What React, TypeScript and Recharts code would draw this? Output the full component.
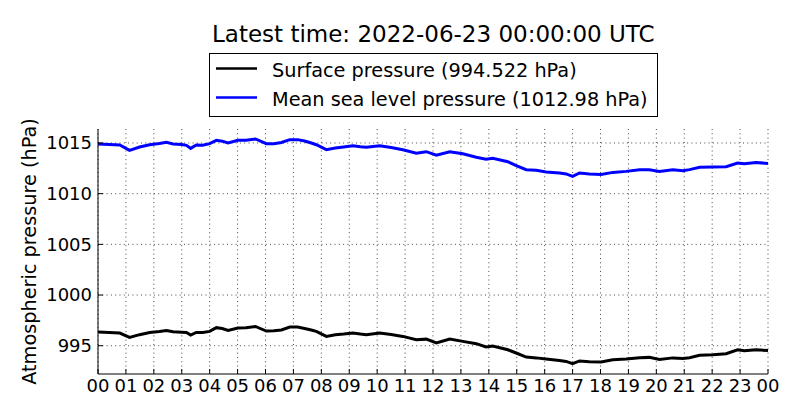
import React from 'react';
import { LineChart, Line, XAxis, YAxis, CartesianGrid } from 'recharts';

const hours = [
  0.0, 0.4, 0.78, 1.13, 1.49, 1.85, 2.2, 2.45, 2.69, 3.0, 3.17, 3.32, 3.52, 3.75,
  4.0, 4.24, 4.45, 4.66, 5.01, 5.3, 5.64, 6.03, 6.3, 6.57, 6.87, 7.15, 7.4, 7.64,
  7.82, 8.18, 8.5, 8.8, 9.13, 9.4, 9.61, 10.09, 10.5, 10.92, 11.4, 11.76, 12.12,
  12.6, 13.07, 13.55, 13.9, 14.14, 14.68, 14.98, 15.34, 15.7, 16.05, 16.53, 16.77,
  17.0, 17.25, 17.6, 18.02, 18.44, 18.92, 19.4, 19.75, 20.11, 20.59, 20.95, 21.19,
  21.55, 22.03, 22.5, 22.91, 23.15, 23.57, 24.0,
];

const meanSeaLevel = [
  1014.9, 1014.85, 1014.8, 1014.27, 1014.6, 1014.83, 1014.95, 1015.06, 1014.9, 1014.85,
  1014.77, 1014.47, 1014.8, 1014.78, 1014.93, 1015.26, 1015.18, 1015.0, 1015.26, 1015.26,
  1015.4, 1014.93, 1014.93, 1015.05, 1015.33, 1015.33, 1015.2, 1015.0, 1014.83, 1014.34,
  1014.5, 1014.6, 1014.73, 1014.62, 1014.57, 1014.73, 1014.55, 1014.34, 1014.0, 1014.14,
  1013.8, 1014.14, 1013.94, 1013.6, 1013.4, 1013.5, 1013.15, 1012.76, 1012.37, 1012.3,
  1012.13, 1012.04, 1011.95, 1011.7, 1012.04, 1011.95, 1011.9, 1012.1, 1012.2, 1012.37,
  1012.37, 1012.2, 1012.37, 1012.27, 1012.37, 1012.6, 1012.63, 1012.66, 1013.03, 1012.95,
  1013.08, 1012.98,
];

const surface = [
  996.35, 996.3, 996.25, 995.82, 996.09, 996.31, 996.4, 996.51, 996.38, 996.33,
  996.31, 996.05, 996.31, 996.3, 996.41, 996.78, 996.7, 996.51, 996.75, 996.78,
  996.9, 996.45, 996.48, 996.55, 996.84, 996.84, 996.7, 996.55, 996.41, 995.92,
  996.08, 996.15, 996.25, 996.15, 996.09, 996.25, 996.1, 995.92, 995.59, 995.65,
  995.27, 995.66, 995.43, 995.2, 994.87, 994.98, 994.6, 994.28, 993.88, 993.8,
  993.69, 993.55, 993.45, 993.22, 993.5, 993.42, 993.39, 993.62, 993.68, 993.82,
  993.85, 993.65, 993.8, 993.75, 993.82, 994.05, 994.11, 994.21, 994.6, 994.5,
  994.6, 994.522,
];

const xTicks = [0, 1, 2, 3, 4, 5, 6, 7, 8, 9, 10, 11, 12, 13, 14, 15, 16, 17, 18, 19, 20, 21, 22, 23, 24];
const yTicks = [995, 1000, 1005, 1010, 1015];

const titleText = 'Latest time: 2022-06-23 00:00:00 UTC';
const surfaceLabel = 'Surface pressure (994.522 hPa)';
const mslLabel = 'Mean sea level pressure (1012.98 hPa)';
const yLabel = 'Atmospheric pressure (hPa)';

const data = hours.map((h, i) => ({ h, surface: surface[i], msl: meanSeaLevel[i] }));

const FONT = 'DejaVu Sans';
const fmtHour = (v: number) => String(v % 24).padStart(2, '0');

export default function App() {
  return (
    <div
      style={{
        position: 'absolute',
        left: 0,
        top: 0,
        width: 800,
        height: 420,
        background: '#fff',
        fontFamily: FONT,
      }}
    >
      <LineChart
        width={800}
        height={420}
        data={data}
        margin={{ top: 129, right: 32, bottom: 16, left: 25 }}
        style={{ fontFamily: FONT }}
      >
        <CartesianGrid
          stroke="#333"
          strokeWidth={0.9}
          strokeDasharray="1 3.3"
          horizontalValues={yTicks}
          verticalValues={xTicks}
        />
        <XAxis
          dataKey="h"
          type="number"
          domain={[0, 24]}
          ticks={xTicks}
          tickFormatter={fmtHour}
          interval={0}
          height={30}
          tickSize={-5}
          tickMargin={10}
          axisLine={{ stroke: '#000', strokeWidth: 1 }}
          tickLine={{ stroke: '#000', strokeWidth: 1 }}
          tick={{ fill: '#000', fontSize: 18, fontFamily: FONT }}
        />
        <XAxis
          xAxisId="top"
          dataKey="h"
          type="number"
          orientation="top"
          domain={[0, 24]}
          ticks={xTicks}
          interval={0}
          height={0}
          tickSize={-5}
          axisLine={{ stroke: '#000', strokeWidth: 1 }}
          tickLine={{ stroke: '#000', strokeWidth: 1 }}
          tick={false}
        />
        <YAxis
          type="number"
          domain={[992.21, 1016.38]}
          ticks={yTicks}
          interval={0}
          width={73}
          tickSize={-5}
          tickMargin={11}
          allowDataOverflow
          axisLine={{ stroke: '#000', strokeWidth: 1 }}
          tickLine={{ stroke: '#000', strokeWidth: 1 }}
          tick={{ fill: '#000', fontSize: 18, fontFamily: FONT }}
          label={{
            value: yLabel,
            angle: -90,
            position: 'insideLeft',
            offset: 4,
            style: { textAnchor: 'middle', fill: '#000', fontSize: 19.3, fontFamily: FONT },
          }}
        />
        <YAxis
          yAxisId="right"
          orientation="right"
          type="number"
          domain={[992.21, 1016.38]}
          ticks={yTicks}
          interval={0}
          width={0}
          tickSize={-5}
          allowDataOverflow
          axisLine={{ stroke: '#000', strokeWidth: 1 }}
          tickLine={{ stroke: '#000', strokeWidth: 1 }}
          tick={false}
        />
        <Line
          type="linear"
          dataKey="surface"
          stroke="#000"
          strokeWidth={3}
          dot={false}
          activeDot={false}
          isAnimationActive={false}
        />
        <Line
          type="linear"
          dataKey="msl"
          stroke="#0000ff"
          strokeWidth={3}
          dot={false}
          activeDot={false}
          isAnimationActive={false}
        />
      </LineChart>
      <svg
        width={800}
        height={420}
        style={{ position: 'absolute', left: 0, top: 0, pointerEvents: 'none' }}
      >
        <text x={433.3} y={42} textAnchor="middle" fontSize={23} fontFamily={FONT} fill="#000">
          {titleText}
        </text>
        <rect x={209.5} y={53.5} width={448} height={63} fill="#fff" stroke="#000" strokeWidth={1} />
        <line x1={216} y1={68.5} x2={257} y2={68.5} stroke="#000" strokeWidth={2.5} />
        <line x1={216} y1={97.5} x2={257} y2={97.5} stroke="#0000ff" strokeWidth={2.5} />
        <text x={272} y={76.5} fontSize={19.3} fontFamily={FONT} fill="#000">
          {surfaceLabel}
        </text>
        <text x={272} y={105.5} fontSize={19.3} fontFamily={FONT} fill="#000">
          {mslLabel}
        </text>
      </svg>
    </div>
  );
}
